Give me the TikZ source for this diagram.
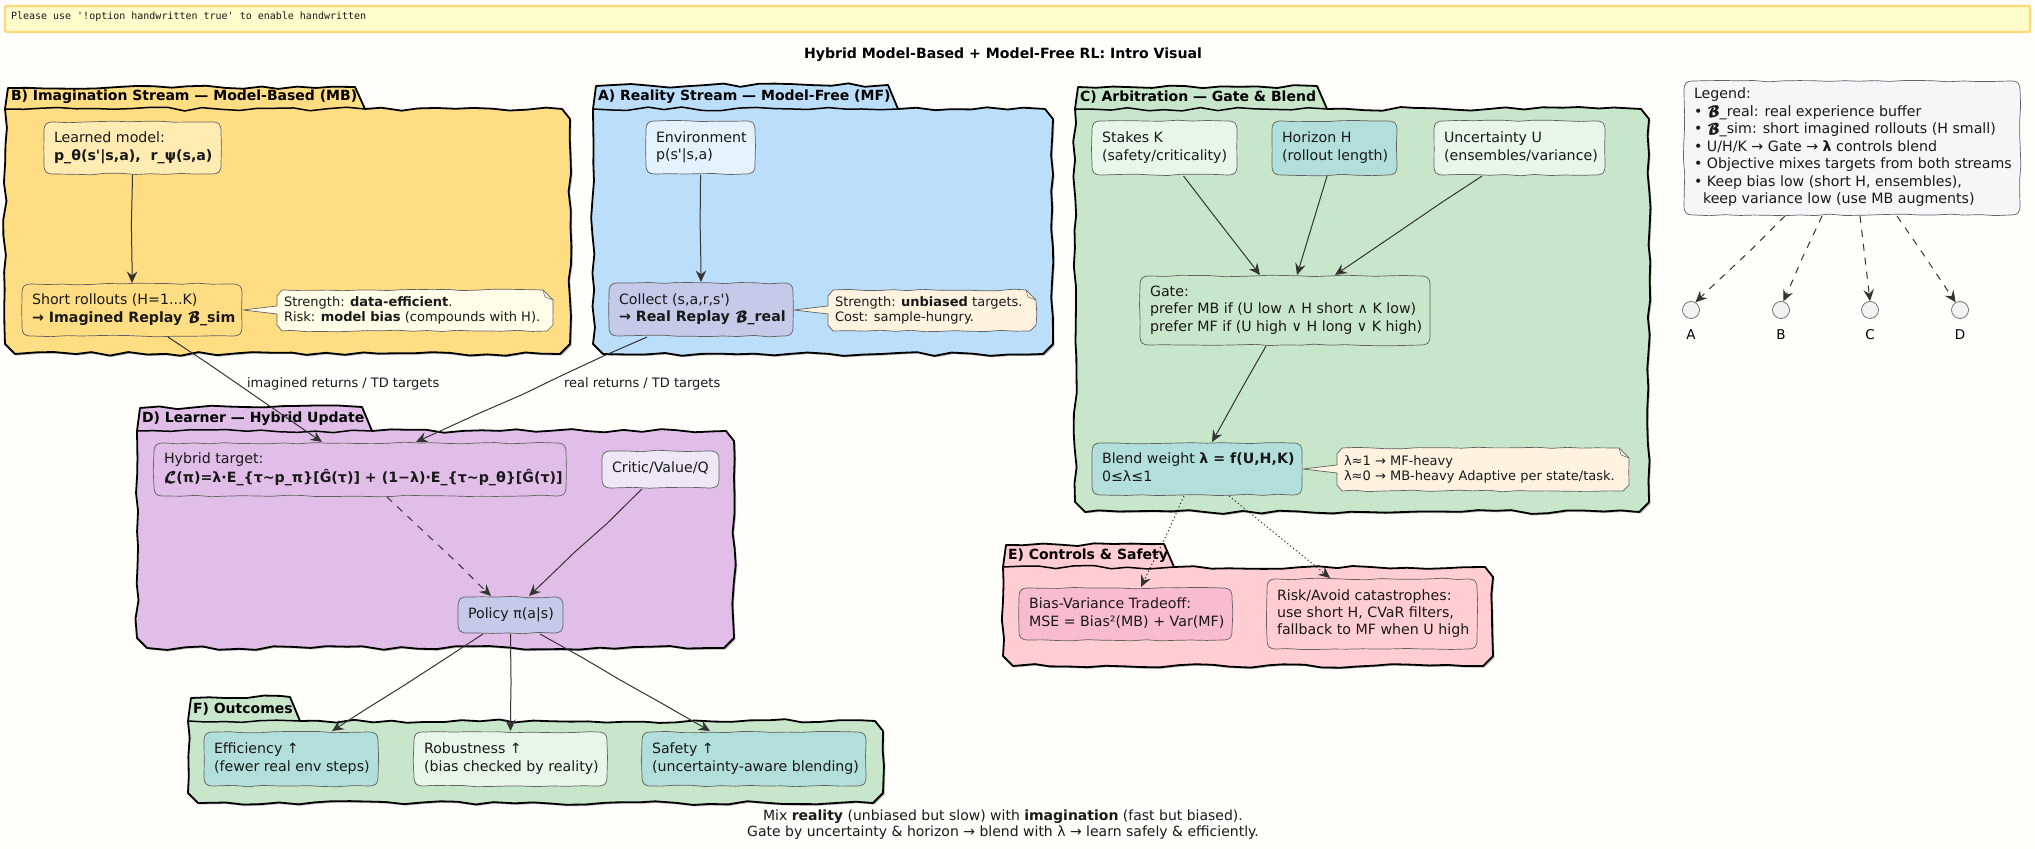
\documentclass[tikz,border=0pt]{standalone}
\usepackage{fontspec}
\setmainfont{DejaVu Sans}[Ligatures=TeXOff]
\setmonofont{DejaVu Sans Mono}
\newfontfamily\scrfont{DejaVu Math TeX Gyre}[FakeBold=1.5]
\usetikzlibrary{decorations.pathmorphing,arrows.meta}
\definecolor{pgB}{HTML}{FFDD82}
\definecolor{pgA}{HTML}{BBDEFB}
\definecolor{pgC}{HTML}{C8E6C9}
\definecolor{pgD}{HTML}{E1BEE7}
\definecolor{pgE}{HTML}{FFCDD2}
\definecolor{bgc}{HTML}{FFFEFA}
\definecolor{ink}{HTML}{333333}
\definecolor{teal1}{HTML}{B2DFDB}
\definecolor{mint}{HTML}{E8F5E9}
\definecolor{indg}{HTML}{C5CAE9}
\definecolor{note1}{HTML}{FFFDE7}
\definecolor{note2}{HTML}{FFF3E0}
\definecolor{cLM}{HTML}{FFECB3}
\definecolor{cEnv}{HTML}{E3F2FD}
\definecolor{cCrit}{HTML}{EDE7F6}
\definecolor{cBias}{HTML}{F8BBD0}
\definecolor{cLeg}{HTML}{F5F6F8}
% 1 reference pixel = 0.2pt
\newcommand\U[1]{#1*0.2pt}
\tikzset{
 wobS/.style={decoration={random steps,segment length=3pt,amplitude=0.17pt},line join=round},
 wobL/.style={decoration={random steps,segment length=3.6pt,amplitude=0.4pt},line join=round},
 boxline/.style={draw=black!62,line width=0.14pt,wobS},
 pkgline/.style={draw=black,line width=0.36pt,wobL},
 txt/.style={font=\fontsize{2.84}{3.5}\selectfont,text=black!90,inner sep=0pt},
 notetxt/.style={font=\fontsize{2.6}{3}\selectfont,text=black!90,align=left,inner sep=0pt,anchor=west},
 pkglabel/.style={font=\fontsize{2.8}{3.4}\selectfont\bfseries,inner sep=0pt,anchor=west},
 conn/.style={draw=ink,line width=0.2pt,-{Stealth[length=2.3pt,width=2.1pt,inset=0.8pt]},decorate,
   decoration={random steps,segment length=9pt,amplitude=0.2pt,post length=3.2pt,pre length=0.8pt}},
 dsh/.style={dash pattern=on 1.4pt off 1.4pt},
 dts/.style={dash pattern=on 0.25pt off 0.5pt},
 edgelabel/.style={font=\fontsize{2.6}{3}\selectfont,inner sep=0pt,anchor=west,text=black!90},
 dot/.style={circle,draw=black!60,line width=0.14pt,fill=black!5,minimum size=3.4pt,inner sep=0pt},
 dotlabel/.style={font=\fontsize{2.7}{3.2}\selectfont,inner sep=0pt},
}
% package: x0 x1 ytop ybody ybottom tabright colour seed
\newcommand\pkgpath[6]{(#1,#4) decorate{-- (#1+3,#3+1)} decorate{-- (#6-10,#3)} -- (#6,#4) decorate{-- (#2-8,#4)} -- (#2,#4+10) decorate{-- (#2,#5-10)} -- (#2-10,#5) decorate{-- (#1+10,#5)} -- (#1,#5-10) decorate{-- (#1,#4)} -- cycle}
\newcommand\pkgshape[8]{%
 \pgfmathsetseed{#8}%
 \path[wobL,fill=black!30,shift={(1.5,1.5)}] \pkgpath{#1}{#2}{#3}{#4}{#5}{#6};%
 \pgfmathsetseed{#8}%
 \path[pkgline,fill=#7] \pkgpath{#1}{#2}{#3}{#4}{#5}{#6};%
 \draw[black,line width=0.3pt,wobL] (#1,#4) decorate{-- (#6,#4)};%
}
% box: name x0 x1 y0 y1 fill text
\newcommand\bx[7]{%
 \path[boxline,fill=#6] (#2+10,#4) decorate{-- (#3-10,#4)} .. controls (#3-2,#4) and (#3,#4+2) .. (#3,#4+10) decorate{-- (#3,#5-10)} .. controls (#3,#5-2) and (#3-2,#5) .. (#3-10,#5) decorate{-- (#2+10,#5)} .. controls (#2+2,#5) and (#2,#5-2) .. (#2,#5-10) decorate{-- (#2,#4+10)} .. controls (#2,#4+2) and (#2+2,#4) .. (#2+10,#4) -- cycle;%
 \pgfmathsetmacro\bw{(#3-#2)*0.2}\pgfmathsetmacro\bh{(#5-#4)*0.2}\pgfmathsetmacro\tw{(#3-#2-20)*0.2}%
 \node[txt,minimum width=\bw pt,minimum height=\bh pt] (#1) at ({(#2+#3)/2},{(#4+#5)/2}) {\raisebox{-0.4pt}{\makebox[\tw pt][l]{\begin{tabular}{@{}l@{}}#7\end{tabular}}}};%
}
% note: name x0 x1 y0 y1 tipx tipy fill text
\newcommand\ntb[9]{%
 \path[draw=black!62,line width=0.14pt,fill=#8,wobS] (#2+5,#4) decorate{-- (#3-10,#4)} -- (#3,#4+10) decorate{-- (#3,#5-6)} -- (#3-6,#5) decorate{-- (#2+5,#5)} -- (#2,#5-6) -- (#2,#7+4) -- (#6,#7) -- (#2,#7-4) -- (#2,#4+6) -- cycle;%
 \draw[black!62,line width=0.1pt] (#3-10,#4) -- (#3-8,#4+7) -- (#3,#4+10);%
 \node[notetxt] (#1) at (#2+6,{(#4+#5)/2}) {#9};%
}
\newcommand\BB{{\scrfont 𝓑}}
\newcommand\LL{{\scrfont 𝓛}}
\begin{document}
\begin{tikzpicture}[x=0.2pt,y=-0.2pt]
\useasboundingbox (0,0) rectangle (2035,849);
\fill[bgc] (0,0) rectangle (2035,849);
% banner
\path[draw=pgB!95!orange,line width=0.44pt,fill=yellow!20!white,rounded corners=0.4pt] (5,6) rectangle (2030,32);
\node[font=\ttfamily\fontsize{2}{2.4}\selectfont,anchor=west,inner sep=0pt,text=black!90] (banner) at (10,17) {Please use '!option handwritten true' to enable handwritten};
\node[font=\fontsize{2.82}{3.4}\selectfont\bfseries,inner sep=0pt] (title) at (1003,55) {Hybrid Model-Based + Model-Free RL: Intro Visual};
% packages
\pkgshape{5}{570}{87}{109}{354}{365}{pgB}{11}
\node[pkglabel] (labB) at (10,97) {B) Imagination Stream — Model-Based (MB)};
\pkgshape{593}{1053}{85}{109}{354}{898}{pgA}{12}
\node[pkglabel] (labA) at (597,97) {A) Reality Stream — Model-Free (MF)};
\pkgshape{1075}{1649}{86}{109}{512}{1327}{pgC}{13}
\node[pkglabel] (labC) at (1079,97) {C) Arbitration — Gate \& Blend};
\pkgshape{137}{734}{407}{431}{648}{372}{pgD}{14}
\node[pkglabel] (labD) at (141,419) {D) Learner — Hybrid Update};
\pkgshape{1003}{1493}{544}{567}{666}{1174}{pgE}{15}
\node[pkglabel] (labE) at (1007,556) {E) Controls \& Safety};
\pkgshape{188}{883}{697}{721}{803}{300}{pgC}{16}
\node[pkglabel] (labF) at (192,709) {F) Outcomes};
% boxes
\pgfmathsetseed{21}
\bx{mdl}{44}{221}{122}{174}{cLM}{Learned model:\\\textbf{p\_θ(s'|s,a),\ \ r\_ψ(s,a)}}
\bx{roll}{22}{242}{284}{336}{pgB}{Short rollouts (H=1...K)\\\textbf{→ Imagined Replay \BB\_sim}}
\bx{env}{646}{755}{121}{174}{cEnv}{Environment\\p(s'|s,a)}
\bx{coll}{609}{793}{283}{336}{indg}{Collect (s,a,r,s')\\\textbf{→ Real Replay \BB\_real}}
\bx{stk}{1092}{1237}{121}{175}{mint}{Stakes K\\(safety/criticality)}
\bx{hor}{1272}{1397}{121}{175}{teal1}{Horizon H\\(rollout length)}
\bx{unc}{1434}{1605}{121}{175}{mint}{Uncertainty U\\(ensembles/variance)}
\bx{gate}{1140}{1430}{276}{345}{pgC}{Gate:\\prefer MB if (U low ∧ H short ∧ K low)\\prefer MF if (U high ∨ H long ∨ K high)}
\bx{blend}{1092}{1302}{443}{495}{teal1}{Blend weight \textbf{λ = f(U,H,K)}\\0≤λ≤1}
\bx{hyb}{154}{566}{443}{496}{pgD}{Hybrid target:\\\textbf{\LL(π)=λ·E\_\{τ\textasciitilde p\_π\}[Ĝ(τ)] + (1−λ)·E\_\{τ\textasciitilde p\_θ\}[Ĝ(τ)]}}
\bx{crit}{602}{719}{451}{488}{cCrit}{Critic/Value/Q}
\bx{pol}{458}{563}{597}{633}{indg}{Policy π(a|s)}
\bx{bias}{1019}{1232}{588}{640}{cBias}{Bias-Variance Tradeoff:\\MSE = Bias²(MB) + Var(MF)}
\bx{risk}{1267}{1477}{579}{649}{pgE}{Risk/Avoid catastrophes:\\use short H, CVaR filters,\\fallback to MF when U high}
\bx{eff}{204}{378}{732}{786}{teal1}{Efficiency ↑\\(fewer real env steps)}
\bx{rob}{414}{607}{732}{786}{mint}{Robustness ↑\\(bias checked by reality)}
\bx{saf}{642}{866}{732}{786}{teal1}{Safety ↑\\(uncertainty-aware blending)}
\bx{leg}{1684}{2020}{81}{215}{cLeg}{Legend:\\• \BB\_real: real experience buffer\\• \BB\_sim: short imagined rollouts (H small)\\• U/H/K → Gate → \textbf{λ} controls blend\\• Objective mixes targets from both streams\\• Keep bias low (short H, ensembles),\\\hspace*{1.8pt}keep variance low (use MB augments)}
% notes
\ntb{nB}{277}{553}{290}{331}{243}{310}{note1}{Strength: \textbf{data-efficient}.\\Risk: \textbf{model bias} (compounds with H).}
\ntb{nA}{828}{1036}{290}{331}{794}{310}{note2}{Strength: \textbf{unbiased} targets.\\Cost: sample-hungry.}
\ntb{nC}{1337}{1629}{448}{491}{1303}{469}{note2}{λ≈1 → MF-heavy\\λ≈0 → MB-heavy Adaptive per state/task.}
% legend anchors
\node[dot] (a) at (1691,310) {};
\node[dot] (b) at (1781,310) {};
\node[dot] (c) at (1870,310) {};
\node[dot] (d) at (1960,310) {};
\node[dotlabel] (la) at (1691,335) {A};
\node[dotlabel] (lb) at (1781,335) {B};
\node[dotlabel] (lc) at (1870,335) {C};
\node[dotlabel] (ld) at (1960,335) {D};
% connectors
\pgfmathsetseed{31}
\draw[conn] (mdl.south) -- (roll.north);
\draw[conn] (env.south) -- (coll.north);
\draw[conn] ([xshift=\U{36}]roll.south) -- ([xshift=\U{-38}]hyb.north);
\draw[conn] ([xshift=\U{-54}]coll.south) -- ([xshift=\U{56}]hyb.north);
\draw[conn,dsh] ([xshift=\U{27}]hyb.south) -- ([xshift=\U{-19.5}]pol.north);
\draw[conn] ([xshift=\U{-18.5}]crit.south) -- ([xshift=\U{18.5}]pol.north);
\draw[conn] ([xshift=\U{19}]stk.south) -- ([xshift=\U{-25}]gate.north);
\draw[conn] ([xshift=\U{-7.5}]hor.south) -- ([xshift=\U{12}]gate.north);
\draw[conn] ([xshift=\U{-37.5}]unc.south) -- ([xshift=\U{50}]gate.north);
\draw[conn] ([xshift=\U{-19}]gate.south) -- ([xshift=\U{15}]blend.north);
\draw[conn,dts] ([xshift=\U{-13}]blend.south) -- ([xshift=\U{15.5}]bias.north);
\draw[conn,dts] ([xshift=\U{32}]blend.south) -- ([xshift=\U{-42}]risk.north);
\draw[conn] ([xshift=\U{-27.5}]pol.south) -- ([xshift=\U{41}]eff.north);
\draw[conn] (pol.south) -- (rob.north);
\draw[conn] ([xshift=\U{29.5}]pol.south) -- ([xshift=\U{-44}]saf.north);
\draw[conn,dsh] ([xshift=\U{-67}]leg.south) -- (a.60);
\draw[conn,dsh] ([xshift=\U{-30}]leg.south) -- (b.75);
\draw[conn,dsh] ([xshift=\U{8}]leg.south) -- (c.90);
\draw[conn,dsh] ([xshift=\U{45}]leg.south) -- (d.120);
% edge labels
\node[edgelabel] (e1) at (246,384) {imagined returns / TD targets};
\node[edgelabel] (e2) at (563,384) {real returns / TD targets};
% footer
\node[font=\fontsize{2.8}{3.25}\selectfont,align=center,inner sep=0pt,text=black!90] (foot) at (1003,825) {Mix \textbf{reality} (unbiased but slow) with \textbf{imagination} (fast but biased).\\Gate by uncertainty \& horizon → blend with λ → learn safely \& efficiently.};
\end{tikzpicture}
\end{document}
